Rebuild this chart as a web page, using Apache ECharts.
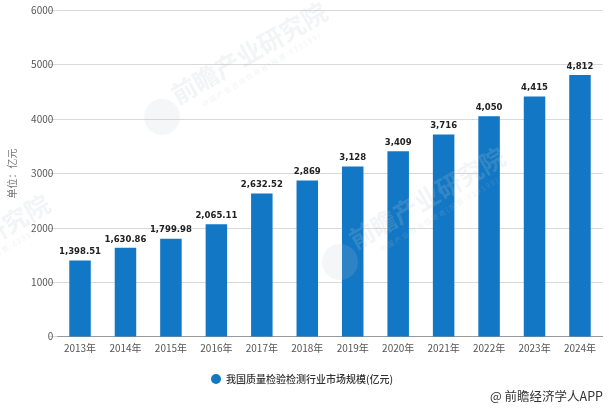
<!DOCTYPE html>
<html>
<head>
<meta charset="utf-8">
<style>
  html, body { margin: 0; padding: 0; background: #fff; }
  #chart { width: 610px; height: 408px; }
</style>
<script src="https://cdn.jsdelivr.net/npm/echarts@6/dist/echarts.min.js"></script>
</head>
<body>
<div id="chart"></div>
<script>
var years = ['2013年', '2014年', '2015年', '2016年', '2017年', '2018年', '2019年', '2020年', '2021年', '2022年', '2023年', '2024年'];
var marketSize = [1398.51, 1630.86, 1799.98, 2065.11, 2632.52, 2869, 3128, 3409, 3716, 4050, 4415, 4812];
var seriesName = '我国质量检验检测行业市场规模(亿元)';
var unitName = '单位：亿元';
var fontCn = '"Noto Sans CJK SC", "Noto Sans", sans-serif';

var chartDom = document.getElementById('chart');
var myChart = echarts.init(chartDom);

// faint site watermark
function watermark(x, y) {
  return [
    {
      type: 'text', x: x, y: y, rotation: Math.PI / 6, silent: true, z: 100,
      style: { text: '前瞻产业研究院', font: 'bold 25px ' + fontCn, fill: 'rgba(190,200,205,0.2)', align: 'center', verticalAlign: 'middle' }
    },
    {
      type: 'text', x: x + 12, y: y + 17, rotation: Math.PI / 5.8, silent: true, z: 100,
      style: { text: '中 国 产 业 咨 询 领 导 者 ( 股 票 : 8 3 9 5 9 9 )', font: '7px ' + fontCn, fill: 'rgba(190,200,205,0.22)', align: 'center', verticalAlign: 'middle' }
    },
    {
      type: 'circle', x: x - 87, y: y + 64, silent: true, z: 100,
      shape: { r: 18 }, style: { fill: 'rgba(190,200,205,0.16)' }
    }
  ];
}

var option = {
  animation: false,
  textStyle: { fontFamily: fontCn },
  grid: { left: 57.3, right: 7.3, top: 10.3, bottom: 71.5, outerBoundsMode: 'none' },
  legend: {
    left: 206,
    top: 369,
    icon: 'circle',
    itemWidth: 10,
    itemHeight: 10,
    itemGap: 6,
    textStyle: { fontSize: 10, fontWeight: 500, color: '#333', fontFamily: fontCn }
  },
  xAxis: {
    type: 'category',
    data: years,
    axisLine: { lineStyle: { color: '#999', width: 1 } },
    axisTick: { alignWithLabel: true, length: 3, lineStyle: { color: '#bbb' } },
    axisLabel: { fontSize: 10, color: '#555', margin: 7, interval: 0 }
  },
  yAxis: {
    type: 'value',
    min: 0,
    max: 6000,
    interval: 1000,
    name: unitName,
    nameLocation: 'middle',
    nameGap: 40,
    nameTextStyle: { fontSize: 10, color: '#777' },
    axisLine: { show: false },
    axisTick: { show: true, length: 8, lineStyle: { color: '#d9d9d9' } },
    axisLabel: {
      fontSize: 10, color: '#555', margin: 4,
      formatter: function (v) { return String(v); }
    },
    splitLine: { lineStyle: { color: '#d9d9d9', width: 1 } }
  },
  graphic: watermark(249, 53).concat(watermark(427, 198)).concat(watermark(-28, 245)),
  series: [
    {
      name: seriesName,
      type: 'bar',
      data: marketSize,
      barWidth: 21.5,
      itemStyle: { color: '#1277c4' },
      label: {
        show: true,
        position: 'top',
        distance: 4,
        fontSize: 8.5,
        fontWeight: 'bold',
        color: '#222',
        fontFamily: 'DejaVu Sans',
        formatter: function (p) {
          return p.value.toLocaleString('en-US');
        }
      }
    }
  ]
};

option && myChart.setOption(option);

// credit line, bottom right
myChart.setOption({
  graphic: option.graphic.concat([{
    type: 'text', x: 603, y: 396, silent: true,
    style: { text: '@ 前瞻经济学人APP', font: '12.5px ' + fontCn, fill: '#333', align: 'right', verticalAlign: 'middle' }
  }])
});
window.addEventListener('resize', function () { myChart.resize(); });
</script>
</body>
</html>
